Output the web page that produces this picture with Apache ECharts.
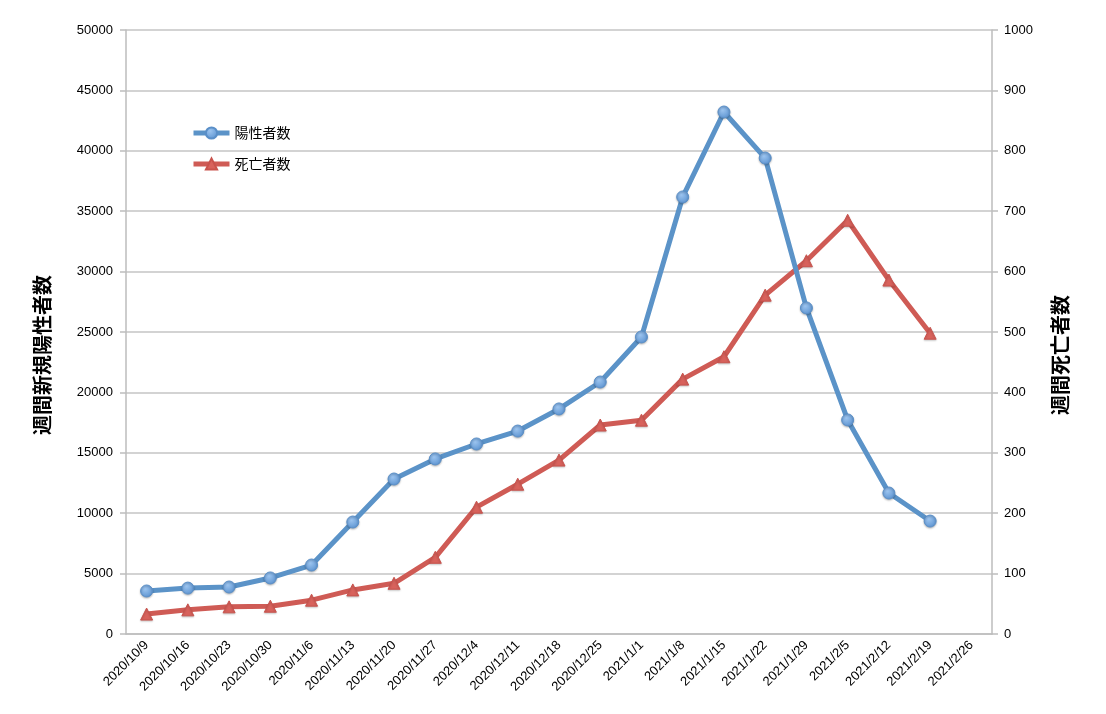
<!DOCTYPE html>
<html><head><meta charset="utf-8">
<script src="https://cdn.jsdelivr.net/npm/echarts@6/dist/echarts.min.js"></script>
<style>html,body{margin:0;padding:0;background:#fff}#c{width:1106px;height:714px}</style>
</head><body><div id="c"></div>
<script>
const categories = ['2020/10/9','2020/10/16','2020/10/23','2020/10/30','2020/11/6','2020/11/13','2020/11/20','2020/11/27','2020/12/4','2020/12/11','2020/12/18','2020/12/25','2021/1/1','2021/1/8','2021/1/15','2021/1/22','2021/1/29','2021/2/5','2021/2/12','2021/2/19','2021/2/26'];
const positives = [3560,3800,3890,4640,5710,9270,12830,14490,15730,16800,18630,20860,24590,36180,43210,39400,26990,17720,11670,9350,null];
const deaths = [33,40,45,46,56,73,84,127,210,248,288,346,354,422,459,561,618,685,586,498,null];
const leftName = '週間新規陽性者数';
const rightName = '週間死亡者数';
const seriesNames = ['陽性者数','死亡者数'];
const font = '"Liberation Sans","Noto Sans CJK JP",sans-serif';
const chart = echarts.init(document.getElementById('c'));
const axisCommon = {
  axisLine:{show:true,lineStyle:{color:'#bdbdbd',width:1.5}},
  axisTick:{show:true,length:6,lineStyle:{color:'#bdbdbd',width:1.5}},
  axisLabel:{color:'#000',fontSize:13,fontFamily:font,margin:13,formatter:v=>String(v)},
  nameLocation:'middle',
  nameTextStyle:{fontSize:20,fontWeight:'bold',color:'#000',fontFamily:'"Noto Sans CJK JP",sans-serif',padding:[0,46,0,0]}
};
chart.setOption({
  animation:false,
  grid:{left:126,right:114,top:30,bottom:80},
  legend:{orient:'vertical',left:186,top:121,itemGap:17,itemWidth:36,itemHeight:14,
    lineStyle:{width:5},
    textStyle:{fontSize:14,color:'#000',fontFamily:'"Noto Sans CJK JP",sans-serif'},
    data:seriesNames},
  xAxis:{type:'category',data:categories,boundaryGap:true,
    axisLine:{lineStyle:{color:'#bdbdbd',width:1.5}},axisTick:{show:false},
    axisLabel:{rotate:45,interval:0,fontSize:13,color:'#000',fontFamily:font,margin:9}},
  yAxis:[
    Object.assign({},axisCommon,{type:'value',min:0,max:50000,interval:5000,position:'left',name:leftName,nameGap:74,nameRotate:90,
      splitLine:{show:true,lineStyle:{color:'#c4c4c4',width:1.5}}}),
    Object.assign({},axisCommon,{type:'value',min:0,max:1000,interval:100,position:'right',name:rightName,nameGap:58,nameRotate:90,
      axisLabel:Object.assign({},axisCommon.axisLabel,{margin:12}),
      splitLine:{show:false}})
  ],
  series:[
    {name:seriesNames[0],type:'line',yAxisIndex:0,data:positives,symbol:'circle',symbolSize:12,
      lineStyle:{color:'#5b93c8',width:5},
      itemStyle:{color:new echarts.graphic.RadialGradient(0.4,0.35,0.7,[{offset:0,color:'#9cc4ef'},{offset:1,color:'#5a92d0'}]),borderColor:'#5a8fc8',borderWidth:1,shadowColor:'rgba(0,0,0,0.25)',shadowBlur:2,shadowOffsetY:1},
      z:3},
    {name:seriesNames[1],type:'line',yAxisIndex:1,data:deaths,symbol:'triangle',symbolSize:12,
      lineStyle:{color:'#cf5b55',width:5},
      itemStyle:{color:'#d8625c',borderColor:'#c9534d',borderWidth:1,shadowColor:'rgba(0,0,0,0.2)',shadowBlur:2,shadowOffsetY:1},
      z:2}
  ]
});
</script></body></html>
